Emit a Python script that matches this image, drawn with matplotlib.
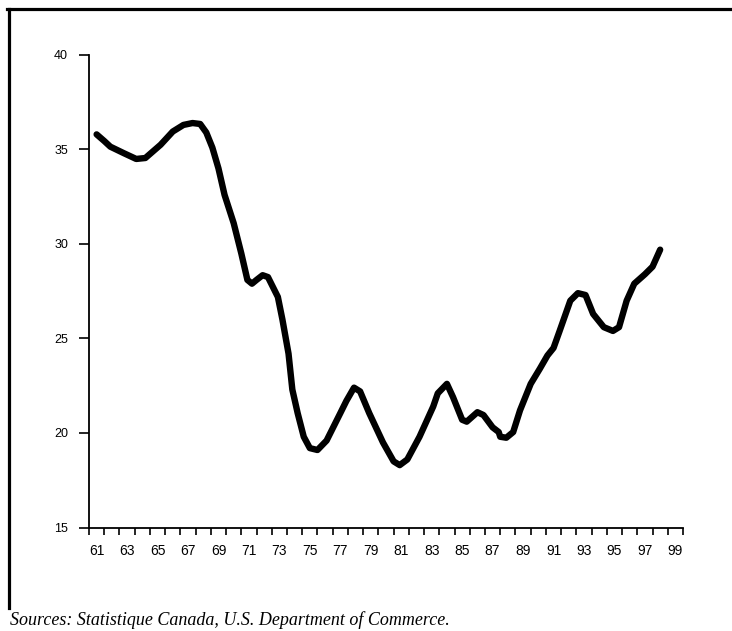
import matplotlib
matplotlib.use("Agg")
import matplotlib.pyplot as plt
from matplotlib.lines import Line2D
from matplotlib.ticker import FixedLocator, NullFormatter

# values (year, level)
years = [61.0, 61.5, 61.9, 62.8, 63.6, 64.2, 64.7, 65.2, 66.0, 66.7,
         67.3, 67.8, 68.2, 68.6, 69.0, 69.4, 70.0, 70.5, 70.9, 71.2,
         71.5, 71.9, 72.25, 72.9, 73.2, 73.6, 73.85, 74.2, 74.6, 75.0,
         75.5, 76.1, 77.0, 77.4, 77.9, 78.3, 78.9, 79.8, 80.5, 80.9,
         81.4, 82.2, 83.1, 83.4, 84.0, 84.4, 85.0, 85.3, 86.0, 86.4,
         87.0, 87.4, 87.5, 87.9, 88.35, 88.8, 89.5, 90.1, 90.6, 91.0,
         91.4, 92.1, 92.6, 93.1, 93.6, 94.3, 94.9, 95.3, 95.8, 96.3,
         97.0, 97.5, 98.0]
values = [35.8, 35.45, 35.15, 34.8, 34.5, 34.55, 34.9, 35.25, 35.95, 36.3,
          36.4, 36.35, 35.9, 35.1, 34.0, 32.6, 31.1, 29.5, 28.1, 27.9,
          28.1, 28.35, 28.25, 27.2, 26.0, 24.2, 22.3, 21.05, 19.8, 19.2,
          19.1, 19.6, 21.05, 21.7, 22.4, 22.2, 21.05, 19.5, 18.5, 18.3,
          18.6, 19.8, 21.4, 22.1, 22.6, 21.9, 20.7, 20.6, 21.1, 20.95,
          20.3, 20.05, 19.8, 19.75, 20.05, 21.2, 22.6, 23.4, 24.1, 24.5,
          25.4, 27.0, 27.4, 27.3, 26.3, 25.6, 25.4, 25.6, 27.0, 27.9,
          28.4, 28.8, 29.7]

x_labels = [str(y) for y in range(61, 100, 2)]
y_ticks = [15, 20, 25, 30, 35, 40]

plt.rcParams['font.family'] = ['Liberation Sans', 'DejaVu Sans']

fig = plt.figure(figsize=(7.32, 6.31), dpi=100)
ax = fig.add_axes([89/732, 1 - 527.5/631, (683 - 89)/732, (527.5 - 55)/631])

ax.plot(years, values, color='black', lw=4.6, solid_capstyle='round',
        solid_joinstyle='round')

ax.set_xlim(60.5, 99.5)
ax.set_ylim(15, 40)

# tick marks at category boundaries, labels centred on odd years
ax.xaxis.set_major_locator(FixedLocator([y + 0.5 for y in range(60, 100)]))
ax.xaxis.set_major_formatter(NullFormatter())
ax.xaxis.set_minor_locator(FixedLocator(list(range(61, 100, 2))))
ax.set_xticklabels(x_labels, minor=True)
ax.tick_params(axis='x', which='major', direction='out', length=5, width=1.2)
ax.tick_params(axis='x', which='minor', length=0, pad=12, labelsize=10)

ax.set_yticks(y_ticks)
ax.set_yticklabels([str(v) for v in y_ticks])
ax.tick_params(axis='y', direction='out', length=7, width=1.2, pad=8,
               labelsize=9)

for s in ['top', 'right']:
    ax.spines[s].set_visible(False)
for s in ['left', 'bottom']:
    ax.spines[s].set_linewidth(1.3)

# frame lines of the page
fig.add_artist(Line2D([7/732, 1], [1 - 8.5/631, 1 - 8.5/631], color='black',
                      lw=2.3, transform=fig.transFigure))
fig.add_artist(Line2D([8.5/732, 8.5/732], [1 - 8.5/631, 1 - 608/631],
                      color='black', lw=2.3, transform=fig.transFigure))

fig.text(10/732, 1 - 625/631,
         'Sources: Statistique Canada, U.S. Department of Commerce.',
         family=['Liberation Serif', 'DejaVu Serif'], style='italic',
         fontsize=13, va='baseline', ha='left')

fig.savefig('out.png', dpi=100)
